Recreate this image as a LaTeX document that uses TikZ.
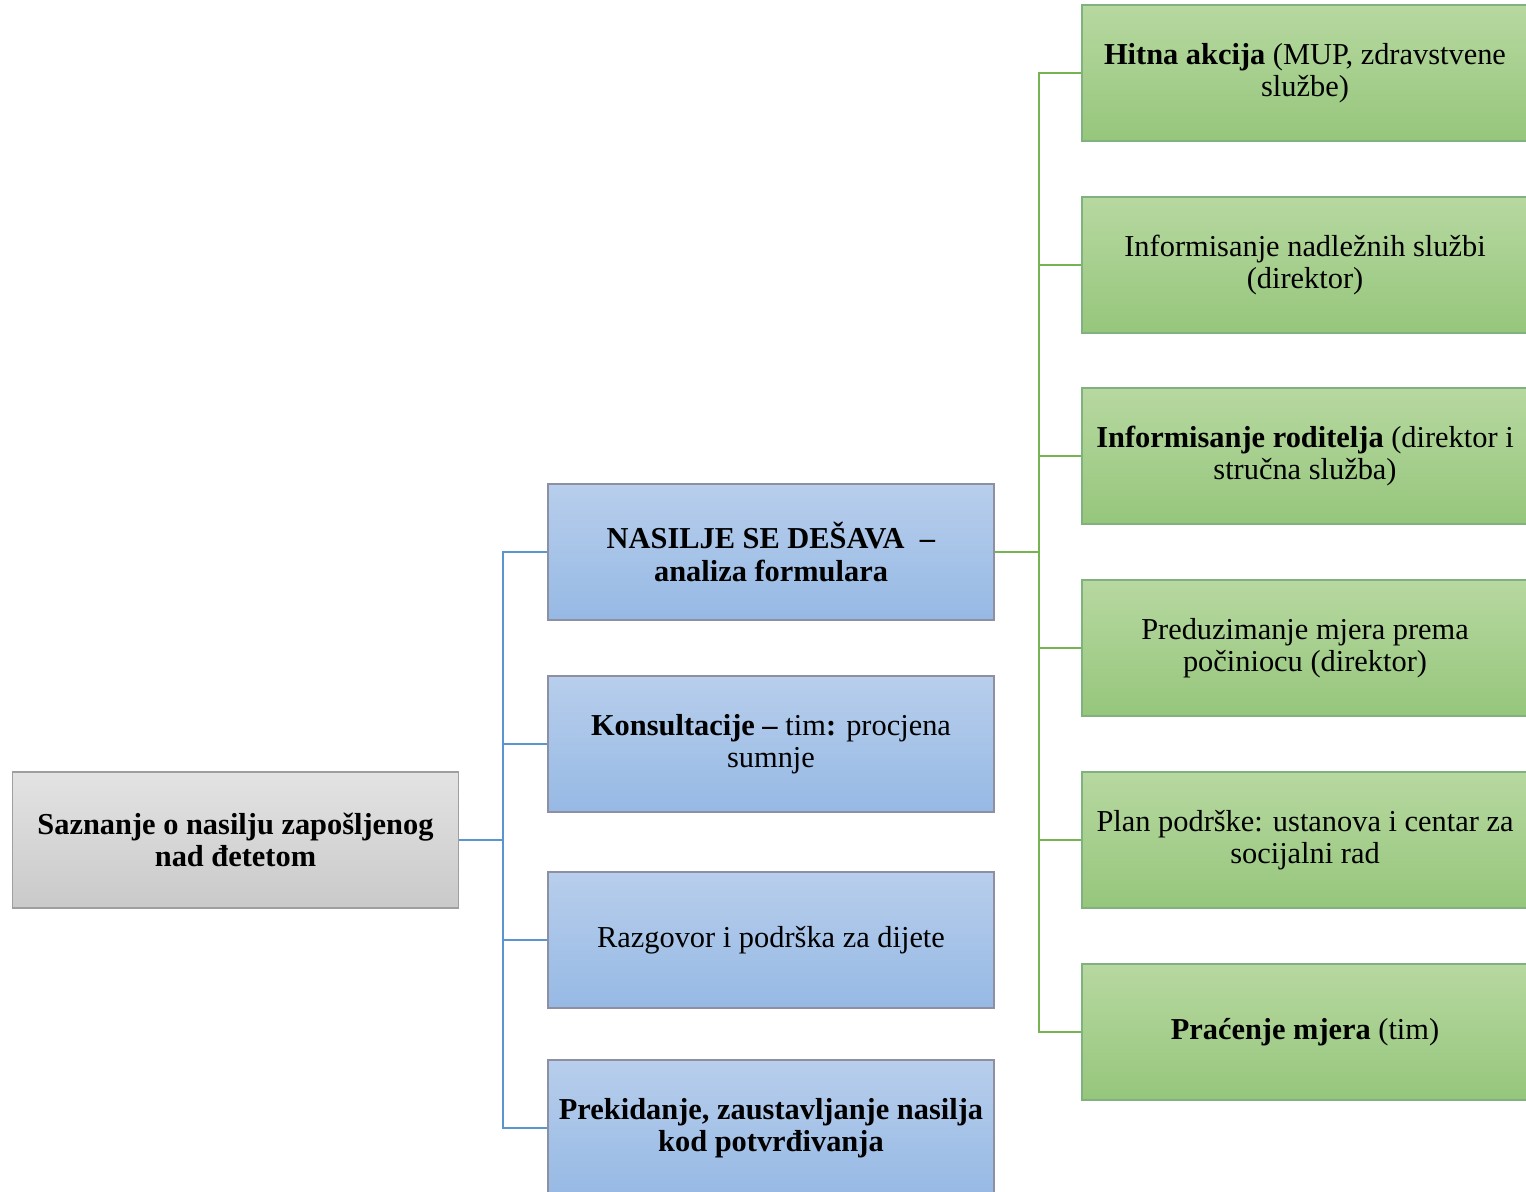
\documentclass[tikz,border=0pt]{standalone}
\usepackage{fontspec}
\setmainfont{Liberation Serif}
\begin{document}
\begin{tikzpicture}[x=0.5pt,y=-0.5pt,
  base/.style={rectangle,minimum width=223pt,minimum height=68pt,inner sep=2pt,align=center,
    font=\fontsize{15.2}{16.2}\selectfont,draw=#1,line width=0.8pt},
  greybox/.style={base=gray!75,top color=gray!22,bottom color=gray!42},
  bluebox/.style={base=blue!10!gray!80,top color={rgb,255:red,184;green,206;blue,236},bottom color={rgb,255:red,150;green,185;blue,228}},
  greenbox/.style={base=green!25!gray!80,top color={rgb,255:red,183;green,216;blue,160},bottom color={rgb,255:red,150;green,198;blue,124}},
  bline/.style={draw={rgb,255:red,91;green,148;blue,206},line width=1pt},
  gline/.style={draw={rgb,255:red,119;green,179;blue,83},line width=1pt}]
\useasboundingbox (0,0) rectangle (1526,1192);
\node[greybox] (root) at (235.5,840) {\textbf{Saznanje o nasilju zapošljenog}\\\textbf{nad đetetom}};
\node[bluebox] (b1) at (771,552) {\textbf{NASILJE SE DEŠAVA\ \ –}\\\textbf{analiza formulara}};
\node[bluebox] (b2) at (771,744) {\textbf{Konsultacije –} tim\textbf{:} procjena\\sumnje};
\node[bluebox] (b3) at (771,940) {Razgovor i podrška za dijete};
\node[bluebox] (b4) at (771,1128) {\textbf{Prekidanje, zaustavljanje nasilja}\\\textbf{kod potvrđivanja}};
\node[greenbox] (g1) at (1305,73) {\textbf{Hitna akcija} (MUP, zdravstvene\\službe)};
\node[greenbox] (g2) at (1305,265) {Informisanje nadležnih službi\\(direktor)};
\node[greenbox] (g3) at (1305,456) {\textbf{Informisanje roditelja} (direktor i\\stručna služba)};
\node[greenbox] (g4) at (1305,648) {Preduzimanje mjera prema\\počiniocu (direktor)};
\node[greenbox] (g5) at (1305,840) {Plan podrške: ustanova i centar za\\socijalni rad};
\node[greenbox] (g6) at (1305,1032) {\textbf{Praćenje mjera} (tim)};
\coordinate (bj) at (503,840);
\coordinate (gj) at (1039,552);
\foreach \n in {b1,b2,b3,b4} \draw[bline] (root.east) -- (bj) |- (\n.west);
\foreach \n in {g1,g2,g3,g4,g5,g6} \draw[gline] (b1.east) -- (gj) |- (\n.west);
\end{tikzpicture}
\end{document}
